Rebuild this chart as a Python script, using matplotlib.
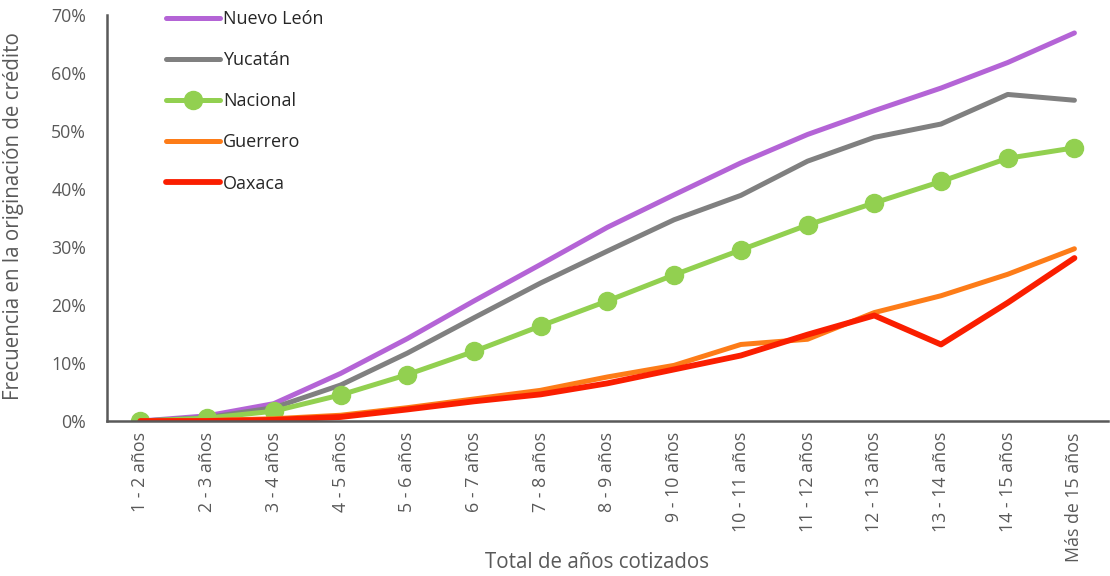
import matplotlib.pyplot as plt
from matplotlib.ticker import PercentFormatter

plt.rcParams['font.family'] = ['Open Sans', 'DejaVu Sans']

categorias = ["1 - 2 años", "2 - 3 años", "3 - 4 años", "4 - 5 años", "5 - 6 años",
              "6 - 7 años", "7 - 8 años", "8 - 9 años", "9 - 10 años", "10 - 11 años",
              "11 - 12 años", "12 - 13 años", "13 - 14 años", "14 - 15 años", "Más de 15 años"]

# porcentajes por estado
nuevo_leon = [0.0, 0.9, 3.0, 8.2, 14.2, 20.7, 27.0, 33.4, 39.0, 44.5, 49.4, 53.5, 57.4, 61.8, 66.9]
yucatan = [0.0, 0.6, 2.3, 6.2, 11.7, 17.8, 23.8, 29.3, 34.7, 38.9, 44.8, 48.9, 51.2, 56.3, 55.3]
nacional = [0.0, 0.5, 1.7, 4.5, 8.0, 12.0, 16.4, 20.7, 25.2, 29.5, 33.8, 37.6, 41.3, 45.3, 47.1]
guerrero = [0.0, 0.1, 0.4, 1.0, 2.3, 3.8, 5.3, 7.6, 9.6, 13.2, 14.1, 18.7, 21.6, 25.3, 29.7]
oaxaca = [0.0, 0.0, 0.2, 0.7, 2.0, 3.4, 4.6, 6.5, 8.9, 11.3, 14.9, 18.2, 13.2, 20.4, 28.1]

gris = "#595959"

fig = plt.figure(figsize=(11.1, 5.76), dpi=100)
ax = fig.add_axes([0.0964, 0.269, 0.9016, 0.705])

x = range(len(categorias))
ax.plot(x, nuevo_leon, color="#b464d6", lw=3.6, label="Nuevo León", solid_capstyle="round")
ax.plot(x, yucatan, color="#808080", lw=3.6, label="Yucatán", solid_capstyle="round")
ax.plot(x, nacional, color="#92d050", lw=3.6, marker="o", markersize=13, label="Nacional",
        solid_capstyle="round")
ax.plot(x, guerrero, color="#fd7c18", lw=3.6, label="Guerrero", solid_capstyle="round")
ax.plot(x, oaxaca, color="#fa1e00", lw=4.2, label="Oaxaca", solid_capstyle="round")

ax.set_xlim(-0.5, len(categorias) - 0.5)
ax.set_ylim(0, 70)
ax.set_yticks(range(0, 71, 10))
ax.yaxis.set_major_formatter(PercentFormatter(decimals=0))
ax.set_xticks(list(x))
ax.set_xticklabels(categorias, rotation=90)
ax.tick_params(length=0, labelsize=12.8, colors=gris)
ax.tick_params(axis="x", pad=8)
ax.tick_params(axis="y", pad=15)

for lado in ("top", "right"):
    ax.spines[lado].set_visible(False)
for lado in ("left", "bottom"):
    ax.spines[lado].set_color(gris)
    ax.spines[lado].set_linewidth(1.8)

# el título del eje x queda entre las etiquetas rotadas
fig.text(597 / 1110, 1 - 563 / 576, "Total de años cotizados", fontsize=14.8, color=gris,
         ha="center", va="center")
ax.set_ylabel("Frecuencia en la originación de crédito", fontsize=14.8, color=gris)
ax.yaxis.set_label_coords(-0.0825, 0.505)

ax.legend(loc="upper left", bbox_to_anchor=(0.043, 1.052), frameon=False, fontsize=13,
          handlelength=3.0, handletextpad=0.15, labelspacing=1.28, labelcolor="#262626")

fig.savefig("out.png", dpi=100)
